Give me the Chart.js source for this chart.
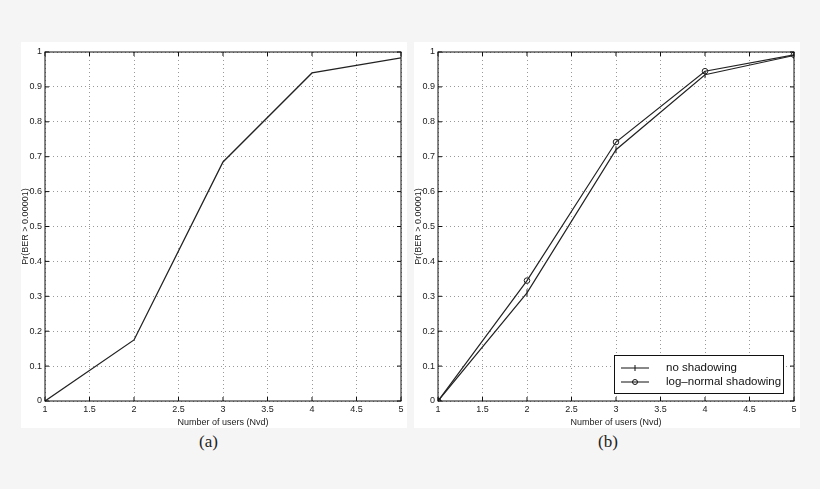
<!DOCTYPE html>
<html><head><meta charset="utf-8">
<script src="https://cdn.jsdelivr.net/npm/chart.js@4"></script>
<style>
body{margin:0;background:#f5f5f5;width:820px;height:489px;position:relative;overflow:hidden;font-family:"Liberation Sans",sans-serif}
.panel{position:absolute;top:42px;width:386px;height:386px;background:#fff}
.panel canvas{position:absolute;left:0;top:0}
.cap{position:absolute;top:432px;font:17px "Liberation Serif",serif;color:#222}
</style></head><body>
<div class="panel" style="left:21px"><canvas id="ca" width="386" height="386"></canvas></div>
<div class="panel" style="left:414px"><canvas id="cb" width="386" height="386"></canvas></div>
<div class="cap" style="left:199px">(a)</div>
<div class="cap" style="left:598px">(b)</div>
<script>
// データ
const users = [1, 2, 3, 4, 5];
const probA = [0, 0.175, 0.685, 0.94, 0.983];
const noShadow = [0, 0.31, 0.72, 0.935, 0.99];
const logNormal = [0, 0.345, 0.742, 0.945, 0.992];
const xTicks = [1, 1.5, 2, 2.5, 3, 3.5, 4, 4.5, 5];
const yTicks = [0, 0.1, 0.2, 0.3, 0.4, 0.5, 0.6, 0.7, 0.8, 0.9, 1];

Chart.defaults.font.family = "'Liberation Sans', sans-serif";
Chart.defaults.font.size = 9;
Chart.defaults.color = '#222';

// 内向きの目盛り、軸タイトル、凡例
const frame = {
    id: 'frame',
    afterDraw(chart, args, opts) {
        const c = chart.ctx, a = chart.chartArea, sx = chart.scales.x, sy = chart.scales.y;
        c.save();
        c.strokeStyle = '#111'; c.lineWidth = 1;
        c.strokeRect(a.left, a.top, a.right - a.left, a.bottom - a.top);
        c.beginPath();
        xTicks.forEach(v => { const p = sx.getPixelForValue(v);
            c.moveTo(p, a.bottom); c.lineTo(p, a.bottom - 4); c.moveTo(p, a.top); c.lineTo(p, a.top + 4); });
        yTicks.forEach(v => { const p = sy.getPixelForValue(v);
            c.moveTo(a.left, p); c.lineTo(a.left + 4, p); c.moveTo(a.right, p); c.lineTo(a.right - 4, p); });
        c.stroke();
        c.fillStyle = '#222'; c.font = "9px 'Liberation Sans', sans-serif"; c.textAlign = 'center';
        c.fillText('Number of users (Nvd)', (a.left + a.right) / 2, 383);
        c.translate(7, (a.top + a.bottom) / 2); c.rotate(-Math.PI / 2);
        c.fillText('Pr(BER > 0.00001)', 0, 0);
        c.restore();
        if (opts.legend) {
            c.save();
            c.fillStyle = '#fff'; c.fillRect(200, 313, 169, 38);
            c.strokeStyle = '#111'; c.strokeRect(200.5, 313.5, 169, 38);
            c.font = "11.5px 'Liberation Sans', sans-serif"; c.fillStyle = '#111'; c.textBaseline = 'middle';
            [['no shadowing', 326], ['log\u2013normal shadowing', 340]].forEach(([t, y], i) => {
                c.beginPath(); c.moveTo(207, y); c.lineTo(235, y); c.stroke();
                c.beginPath();
                if (i === 0) { c.moveTo(221, y - 3); c.lineTo(221, y + 3); }
                else c.arc(221, y, 2.5, 0, Math.PI * 2);
                c.stroke();
                c.fillText(t, 252, y);
            });
            c.restore();
        }
    }
};

function makeChart(id, datasets, legend) {
    new Chart(document.getElementById(id), {
        type: 'line',
        data: { datasets },
        options: {
            responsive: false, animation: false,
            layout: { padding: { top: 10, right: 6, left: 0, bottom: 0 }, autoPadding: false },
            plugins: { legend: { display: false }, tooltip: { enabled: false }, frame: { legend } },
            scales: {
                x: {
                    type: 'linear', min: 1, max: 5,
                    afterBuildTicks: s => { s.ticks = xTicks.map(v => ({ value: v })); },
                    afterFit: s => { s.height = 27; },
                    grid: { color: '#999', drawTicks: false },
                    border: { dash: [1, 3], display: false },
                    ticks: { padding: 3, maxRotation: 0, callback: v => String(v) }
                },
                y: {
                    min: 0, max: 1,
                    afterBuildTicks: s => { s.ticks = yTicks.map(v => ({ value: v })); },
                    afterFit: s => { s.width = 24; },
                    grid: { color: '#999', drawTicks: false },
                    border: { dash: [1, 3], display: false },
                    ticks: { padding: 3, callback: v => String(v) }
                }
            }
        },
        plugins: [frame]
    });
}

const pts = arr => users.map((u, i) => ({ x: u, y: arr[i] }));

makeChart('ca', [{ data: pts(probA), borderColor: '#222', borderWidth: 1.3, pointRadius: 0, tension: 0 }], false);
makeChart('cb', [
    { data: pts(noShadow), borderColor: '#222', borderWidth: 1.2, pointStyle: 'line', rotation: 90, pointRadius: 3.5, pointBorderColor: '#222', pointBorderWidth: 1, tension: 0 },
    { data: pts(logNormal), borderColor: '#222', borderWidth: 1.2, pointStyle: 'circle', pointRadius: 2.8, pointBackgroundColor: 'rgba(0,0,0,0)', pointBorderColor: '#222', pointBorderWidth: 1, tension: 0 }
], true);
</script>
</body></html>
